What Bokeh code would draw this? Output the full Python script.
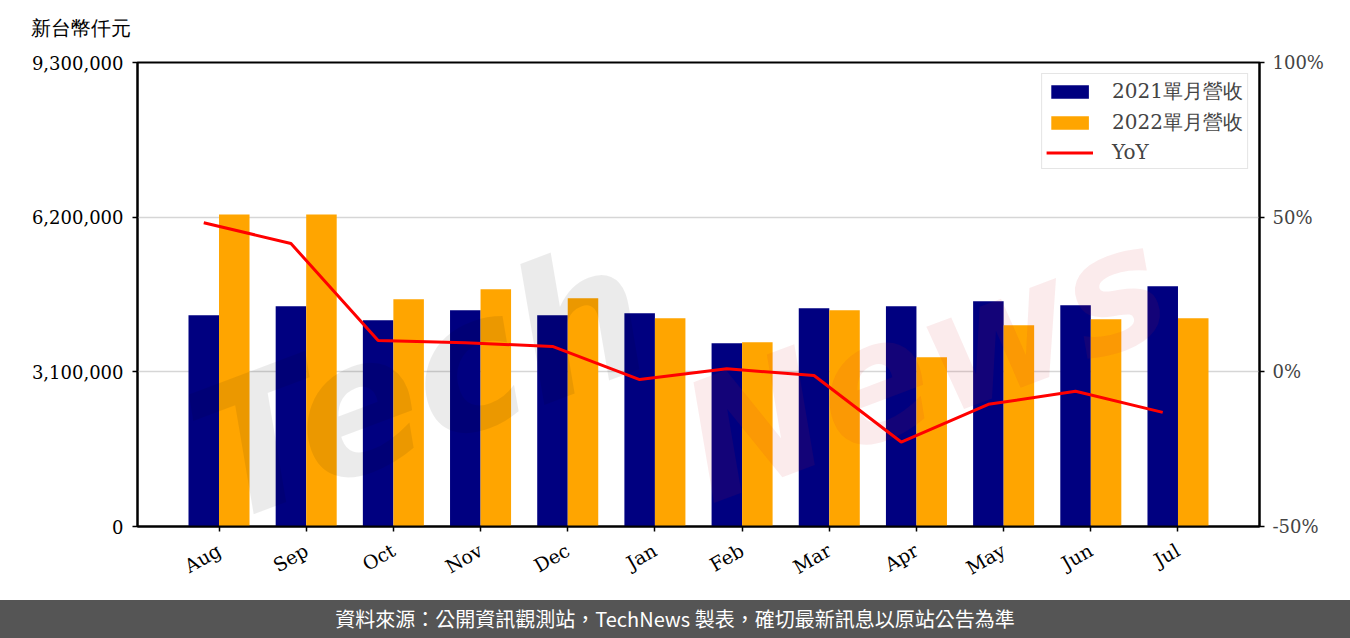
import math
from bokeh.plotting import figure
from bokeh.models import (Range1d, LinearAxis, FixedTicker, NumeralTickFormatter,
                          PrintfTickFormatter, Legend, LegendItem, Title, Div)
from bokeh.layouts import column
from bokeh.core.properties import value
from bokeh.embed import file_html
from bokeh.resources import INLINE

# ---------------- data ----------------
months = ["Aug", "Sep", "Oct", "Nov", "Dec", "Jan", "Feb", "Mar", "Apr", "May", "Jun", "Jul"]
rev_2021 = [4234000, 4414000, 4134000, 4334000, 4234000, 4274000,
            3674000, 4374000, 4414000, 4514000, 4434000, 4814000]
rev_2022 = [6254000, 6254000, 4554000, 4754000, 4574000, 4174000,
            3694000, 4334000, 3394000, 4034000, 4154000, 4174000]
yoy_pct = [48.2, 41.5, 10.1, 9.4, 8.2, -2.5, 1.0, -1.2, -22.7, -10.5, -6.3, -13.1]
left_ticks = [0, 3100000, 6200000, 9300000]
right_ticks = [-50, 0, 50, 100]
series_names = ["2021單月營收", "2022單月營收", "YoY"]
unit_label = "新台幣仟元"
footer_text = "資料來源：公開資訊觀測站，TechNews 製表，確切最新訊息以原站公告為準"

# ---------------- styling ----------------
SERIF = "DejaVu Serif"
BAR_W = 0.35
xs = list(range(len(months)))
x_2021 = [i - BAR_W / 2 for i in xs]
x_2022 = [i + BAR_W / 2 for i in xs]

p = figure(width=1350, height=600,
           x_range=Range1d(-0.935, len(months) - 1 + 0.935),
           y_range=Range1d(left_ticks[0], left_ticks[-1]),
           output_backend="svg", toolbar_location=None,
           min_border_left=137, min_border_right=91,
           min_border_top=62, min_border_bottom=74)
p.background_fill_color = "white"
p.border_fill_color = "white"
p.outline_line_color = "black"
p.outline_line_width = 2
p.outline_line_alpha = 1

p.extra_y_ranges = {"yoy": Range1d(right_ticks[0], right_ticks[-1])}

# grid
p.xgrid.visible = False
p.ygrid.ticker = FixedTicker(ticks=left_ticks[1:-1])
p.ygrid.grid_line_color = "#d6d6d6"
p.ygrid.grid_line_width = 1.6

# bars
r1 = p.vbar(x=x_2021, top=rev_2021, width=BAR_W, fill_color="#000080", line_color=None)
r2 = p.vbar(x=x_2022, top=rev_2022, width=BAR_W, fill_color="#FFA500", line_color=None)

# watermark
p.text(x=[-0.21], y=[1214000], text=["Tech"], angle=0.36,
       text_font=value("DejaVu Sans"), text_font_style="bold italic",
       text_font_size="185px", text_color="black", text_alpha=0.08,
       text_align="left", text_baseline="alphabetic")
p.text(x=[5.41], y=[1514000], text=["News"], angle=0.36,
       text_font=value("DejaVu Sans"), text_font_style="bold italic",
       text_font_size="165px", text_color="#d02030", text_alpha=0.09,
       text_align="left", text_baseline="alphabetic")

# YoY line
r3 = p.line(x=x_2021, y=yoy_pct, y_range_name="yoy", line_color="#ff0000", line_width=3)

# axes
for ax in [p.xaxis[0], p.yaxis[0]]:
    ax.axis_line_color = "black"
    ax.axis_line_width = 2
    ax.major_tick_line_color = "black"
    ax.major_tick_line_width = 1.5
    ax.major_tick_out = 5
    ax.major_tick_in = 0
    ax.minor_tick_line_color = None
    ax.major_label_text_font = SERIF
    ax.major_label_text_font_size = "18px"
    ax.major_label_text_color = "black"

p.yaxis[0].ticker = FixedTicker(ticks=left_ticks)
p.yaxis[0].formatter = NumeralTickFormatter(format="0,0")
p.yaxis[0].major_label_standoff = 9

p.xaxis[0].ticker = FixedTicker(ticks=xs)
p.xaxis[0].major_label_overrides = {i: m for i, m in zip(xs, months)}
p.xaxis[0].major_label_orientation = math.pi / 6
p.xaxis[0].major_label_standoff = 17
p.xaxis[0].major_label_text_font_size = "19px"
p.xaxis[0].major_label_text_align = "right"

ax2 = LinearAxis(y_range_name="yoy", ticker=FixedTicker(ticks=right_ticks),
                 formatter=PrintfTickFormatter(format="%d%%"))
ax2.axis_line_color = "black"
ax2.axis_line_width = 2
ax2.major_tick_line_color = "black"
ax2.major_tick_line_width = 1.5
ax2.major_tick_out = 5
ax2.major_tick_in = 0
ax2.minor_tick_line_color = None
ax2.major_label_text_font = SERIF
ax2.major_label_text_font_size = "18px"
ax2.major_label_standoff = 8
p.add_layout(ax2, "right")

# spacer between frame and unit label, then the unit label itself
p.add_layout(Title(text=" ", text_font_size="6px"), "above")
p.add_layout(Title(text=unit_label, align="left", offset=-107,
                   text_font=SERIF, text_font_size="20px", text_font_style="normal",
                   text_color="black"), "above")

# legend
legend = Legend(items=[LegendItem(label=series_names[0], renderers=[r1]),
                       LegendItem(label=series_names[1], renderers=[r2]),
                       LegendItem(label=series_names[2], renderers=[r3])],
                location="top_right")
legend.label_text_font = SERIF
legend.label_text_font_size = "20px"
legend.glyph_width = 47
legend.glyph_height = 17
legend.label_height = 20
legend.spacing = 4
legend.padding = 4
legend.margin = 11
legend.label_standoff = 19
legend.border_line_color = "#cccccc"
legend.border_line_width = 1.5
legend.background_fill_alpha = 0.85
p.add_layout(legend)

footer = Div(text=footer_text, width=1350, height=38, margin=(0, 0, 0, 0),
             styles={"background-color": "#555555", "color": "white",
                     "font-size": "20px", "text-align": "center",
                     "line-height": "38px", "font-family": "Noto Sans CJK TC"})

layout = column(p, footer, spacing=0)
open("out.html", "w").write(file_html(layout, INLINE))
